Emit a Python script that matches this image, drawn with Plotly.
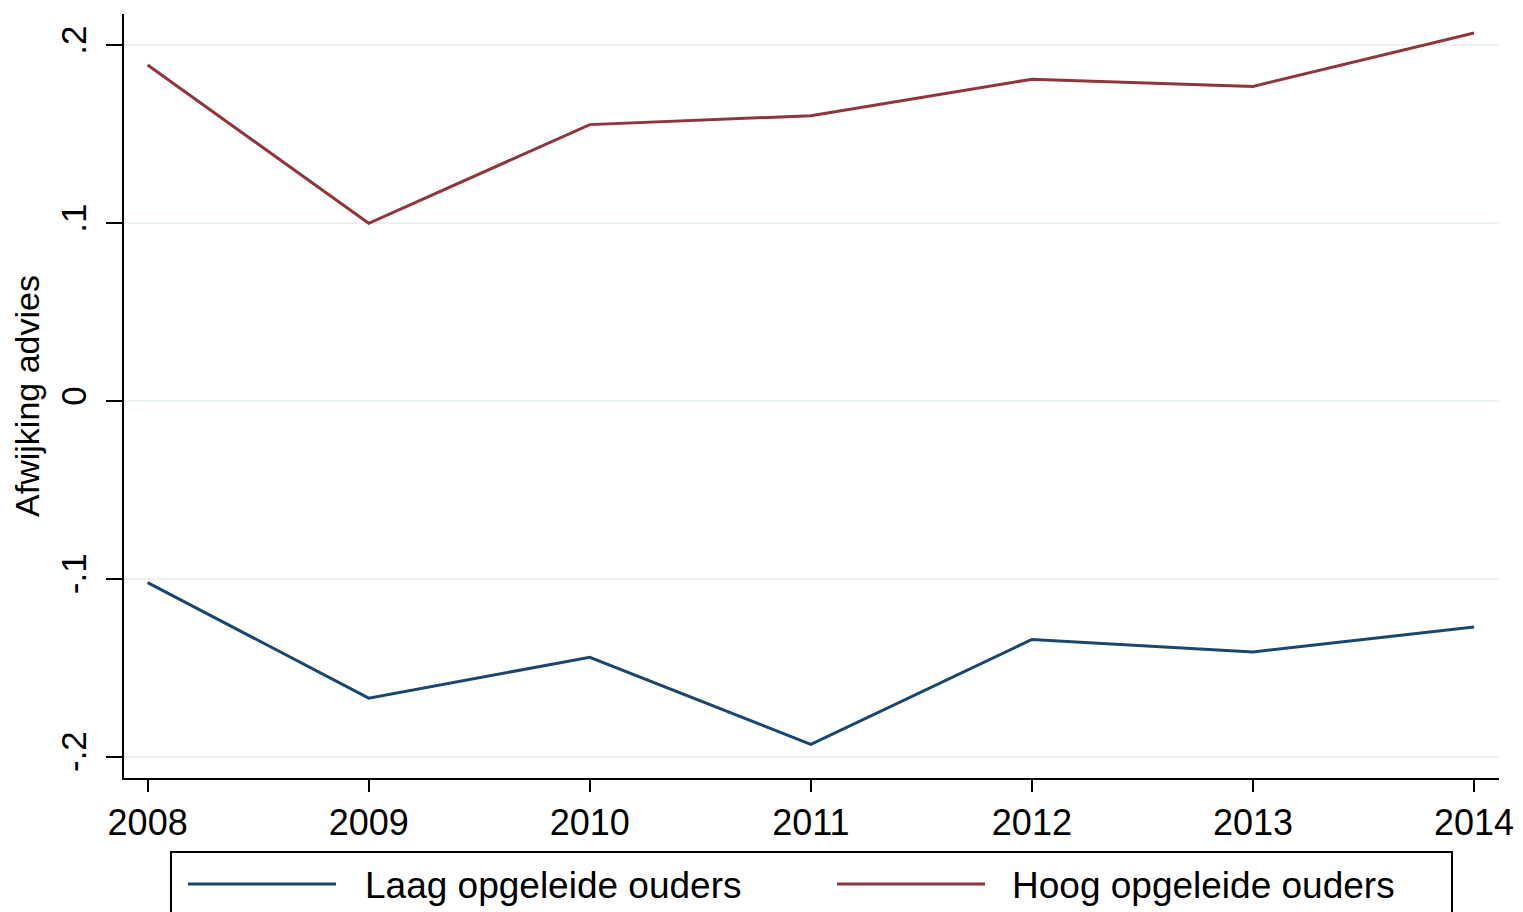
import plotly.graph_objects as go

years = [2008, 2009, 2010, 2011, 2012, 2013, 2014]
laag = [-0.102, -0.167, -0.144, -0.193, -0.134, -0.141, -0.127]
hoog = [0.189, 0.100, 0.1555, 0.1605, 0.181, 0.177, 0.207]
series_names = ["Laag opgeleide ouders", "Hoog opgeleide ouders"]
ytick_vals = [-0.2, -0.1, 0, 0.1, 0.2]
ytick_text = ["-.2", "-.1", "0", ".1", ".2"]
y_title = "Afwijking advies"

BLUE = "#1a476f"
RED = "#90353b"
GRID = "#eaf2f3"
FONT = "Liberation Sans, Arial, sans-serif"

# page is rendered with an 8px body margin; compensate
OFF = 8
W, H = 1523, 912
L, R, T, B = 124, 24, 14, 134
PW, PH = W - L - R, H - T - B


def px(x):
    return (x - L) / PW


def py(y):
    return (H - B - y) / PH


fig = go.Figure()
fig.add_trace(go.Scatter(x=years, y=laag, mode="lines", name=series_names[0],
                         line=dict(color=BLUE, width=3), showlegend=False))
fig.add_trace(go.Scatter(x=years, y=hoog, mode="lines", name=series_names[1],
                         line=dict(color=RED, width=3), showlegend=False))

fig.update_layout(
    width=W - OFF, height=H - OFF,
    margin=dict(l=L - OFF, r=R, t=T - OFF, b=B, autoexpand=False),
    paper_bgcolor="white", plot_bgcolor="white",
    font=dict(family=FONT, color="black"),
    xaxis=dict(range=[2007.893, 2014.113], tickvals=years,
               ticktext=[str(y) for y in years],
               showgrid=False, zeroline=False,
               showline=True, linecolor="black", linewidth=2,
               ticks="outside", ticklen=12, tickwidth=2, tickcolor="black",
               tickfont=dict(size=36, family=FONT, color="black")),
    yaxis=dict(range=[-0.2119, 0.2177], tickvals=ytick_vals, ticktext=ytick_text,
               tickangle=-90, ticklabelstandoff=6,
               showgrid=True, gridcolor=GRID, gridwidth=2, zeroline=False,
               showline=True, linecolor="black", linewidth=2,
               ticks="outside", ticklen=16, tickwidth=2, tickcolor="black",
               tickfont=dict(size=35, family=FONT, color="black"),
               title=dict(text=y_title, font=dict(size=34, family=FONT, color="black"),
                          standoff=6)),
)

# Legend box (Stata style), drawn below the plot
fig.add_shape(type="rect", xref="paper", yref="paper",
              x0=px(171), x1=px(1452), y0=py(852), y1=py(935),
              line=dict(color="black", width=2), fillcolor="white", layer="above")
for (x0, x1, xt, name, col) in [(188, 336, 363, series_names[0], BLUE),
                                (837, 985, 1010, series_names[1], RED)]:
    fig.add_shape(type="line", xref="paper", yref="paper",
                  x0=px(x0), x1=px(x1), y0=py(884), y1=py(884),
                  line=dict(color=col, width=3))
    fig.add_annotation(xref="paper", yref="paper", x=px(xt), y=py(885),
                       text=name, showarrow=False, xanchor="left", yanchor="middle",
                       font=dict(size=37, family=FONT, color="black"))

fig.write_html("out.html")
